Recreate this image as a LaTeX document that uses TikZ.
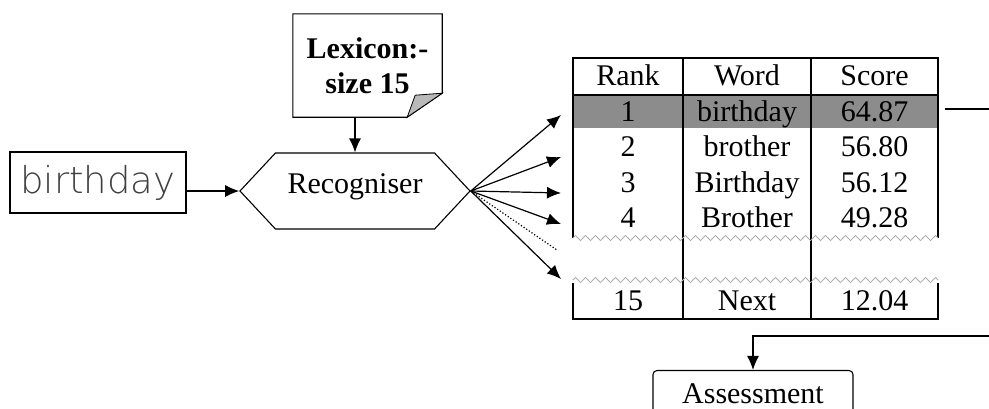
\documentclass[tikz,border=0pt]{standalone}
\usepackage{fontspec}
\setmainfont{Liberation Serif}
\IfFontExistsTF{DejaVu Sans ExtraLight}
  {\newfontfamily\handfont{DejaVu Sans ExtraLight}}
  {\newfontfamily\handfont{DejaVu Sans}}
\usepackage{tikz}
\usetikzlibrary{arrows.meta}
\usetikzlibrary{shapes.symbols}
\usetikzlibrary{decorations.pathmorphing}

\begin{document}
\begin{tikzpicture}[x=1pt,y=-1pt,node distance=35.5pt,
    >={Latex[width=12pt,length=14pt]},
    txt/.style = {font=\fontsize{30}{35}\selectfont, inner sep=0pt},
    cell/.style = {txt, text height=20pt, text depth=0pt},
    handbox/.style = {draw, line width=1.1pt, minimum width=176pt,
                      minimum height=61pt, inner sep=0pt,
                      font=\handfont\fontsize{37}{40}\selectfont, text=black!75},
    proc/.style = {signal, signal to=east and west, draw, line width=1.1pt,
                   minimum width=230pt, minimum height=76pt,
                   signal pointer angle=94, txt, text height=20pt, text depth=16pt},
    lexicon/.style = {txt, font=\bfseries\fontsize{30}{35}\selectfont,
                      align=center, minimum width=149pt, minimum height=103pt},
    outcome/.style = {draw, rounded corners=4pt, line width=1.1pt,
                      minimum width=200pt, minimum height=46pt, txt,
                      text height=20pt, text depth=0pt},
    rule/.style = {line width=1.1pt},
    tear/.style = {gray!65, line width=0.8pt, decorate,
                   decoration={zigzag, segment length=10pt, amplitude=2.6pt}}]
  \useasboundingbox (0,0) rectangle (989,408);
  \clip (0,0) rectangle (989,408);

  \node (hand) [handbox] at (98,182.5) {birthday};
  \node (recog) [proc] at (355,191) {Recogniser};
  \node (lex) [lexicon] at (367.5,65.5) {Lexicon:-\\size 15};
  \node (assess) [outcome] at (753,393.5) {Assessment};

  % folded lexicon sheet
  \draw[rule] (lex.north west) -- (lex.north east) -- ([yshift=24pt]lex.south east)
    -- ([xshift=-35pt]lex.south east) -- (lex.south west) -- cycle;
  \draw[line width=0.8pt, fill=gray!55] ([xshift=-35pt]lex.south east)
    -- ([yshift=24pt]lex.south east) -- ([xshift=-27pt,yshift=22pt]lex.south east) -- cycle;

  % ranked table
  \fill[black!45] (573,95) rectangle (938,128);
  \draw[rule] (573,238) -- (573,58) -- (938,58) -- (938,238);
  \draw[rule] (573,95) -- (938,95);
  \draw[rule] (683,58) -- (683,319);
  \draw[rule] (811,58) -- (811,319);
  \draw[rule] (573,283) -- (573,319) -- (938,319) -- (938,283);
  \draw[tear] (573,238) -- (938,238);
  \draw[tear] (573,280) -- (938,280);

  \node (rank) [cell] at (628,75) {Rank};
  \node (word) [cell] at (747,75) {Word};
  \node (score) [cell] at (874.5,75) {Score};
  \node (rank1) [cell, below of=rank, node distance=36pt] {1};
  \node (word1) [cell, below of=word, node distance=36pt] {birthday};
  \node (score1) [cell, below of=score, node distance=36pt] {64.87};
  \node (rank2) [cell, below of=rank1] {2};
  \node (word2) [cell, below of=word1] {brother};
  \node (score2) [cell, below of=score1] {56.80};
  \node (rank3) [cell, below of=rank2] {3};
  \node (word3) [cell, below of=word2] {Birthday};
  \node (score3) [cell, below of=score2] {56.12};
  \node (rank4) [cell, below of=rank3] {4};
  \node (word4) [cell, below of=word3] {Brother};
  \node (score4) [cell, below of=score3] {49.28};
  \node (rank15) [cell, below of=rank4, node distance=83pt] {15};
  \node (word15) [cell, below of=word4, node distance=83pt] {Next};
  \node (score15) [cell, below of=score4, node distance=83pt] {12.04};

  % fan of candidates
  \coordinate (c1) at (561,115);
  \coordinate (c2) at (561,157);
  \coordinate (c3) at (561,193);
  \coordinate (c4) at (561,224);
  \coordinate (cdots) at (557,250);
  \coordinate (c15) at (561,279);
  \coordinate (topout) at (945,109);
  \coordinate (topend) at (989,109);
  \coordinate (backin) at (989,336);

  \path[->,line width=1.2pt]
    (hand.east |- recog.west) edge (recog.west)
    (lex.south -| recog.north) edge (recog.north)
    (recog.east) edge (c1)
    (recog.east) edge (c2)
    (recog.east) edge (c3)
    (recog.east) edge (c4)
    (recog.east) edge (c15);
  \draw[line width=1.2pt, dotted] (recog.east) -- (cdots);

  \draw[line width=1.1pt] (topout) -- (topend);
  \draw[->,line width=1.1pt] (backin) -- (backin -| assess.north) -- (assess.north);
\end{tikzpicture}
\end{document}
